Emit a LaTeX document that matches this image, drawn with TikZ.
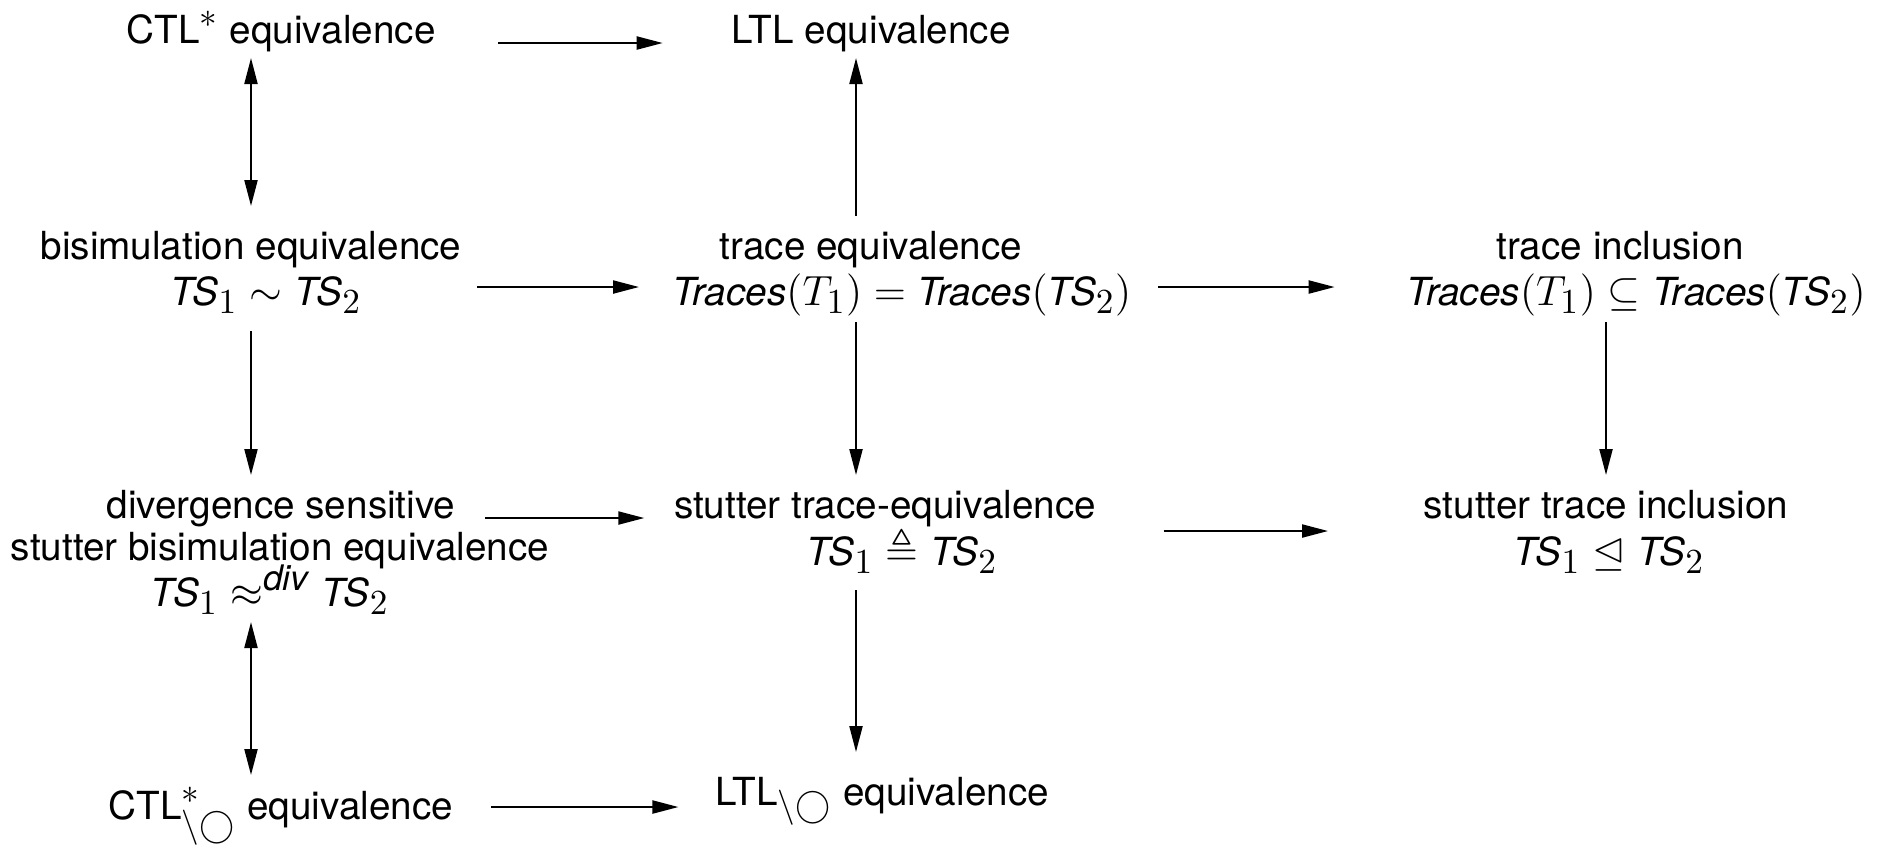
\documentclass[tikz,border=0pt]{standalone}
\usepackage{amsmath,amssymb}
\usepackage[no-math]{fontspec}
\setmainfont{TeX Gyre Heros}
\usetikzlibrary{arrows.meta,calc}
\DeclareMathSizes{11}{12}{10}{7}

\newcommand{\TS}{\mbox{\textit{TS}}}
\newcommand{\Tr}{\mbox{\textit{Traces}}}
\newcommand{\nonext}{_{\setminus\bigcirc}}

\tikzset{
  lbl/.style={anchor=base, inner sep=0pt, font=\fontsize{11}{13}\selectfont},
  arr/.style={line width=0.6pt, -{Triangle[length=0.26cm,width=0.13cm]}},
  darr/.style={line width=0.6pt, {Triangle[length=0.26cm,width=0.13cm]}-{Triangle[length=0.26cm,width=0.13cm]}}
}

\begin{document}
\begin{tikzpicture}[x=0.01cm,y=-0.01cm]
    \useasboundingbox (0,0) rectangle (1885,847);
    % top row
    \node[lbl] (ctl) at (281,43) {CTL$^*$ equivalence};
    \node[lbl] (ltl) at (871,43) {LTL equivalence};
    % second row
    \node[lbl] (bisim) at (251,259) {bisimulation equivalence};
    \node[lbl] (bisimRel) at (266,305) {$\TS_1 \sim \TS_2$};
    \node[lbl] (trace) at (871,259) {trace equivalence};
    \node[lbl] (traceRel) at (902,305) {$\Tr(T_1) = \Tr(\TS_2)$};
    \node[lbl] (incl) at (1620,259) {trace inclusion};
    \node[lbl] (inclRel) at (1636,305) {$\Tr(T_1) \subseteq \Tr(\TS_2)$};
    % third row
    \node[lbl] (div) at (281,518) {divergence sensitive};
    \node[lbl] (divB) at (280,560) {stutter bisimulation equivalence};
    \node[lbl] (divRel) at (270,606) {$\TS_1 \approx^{\textit{div}} \TS_2$};
    \node[lbl] (sttr) at (885,518) {stutter trace-equivalence};
    \node[lbl] (sttrRel) at (902,565) {$\TS_1 \triangleq \TS_2$};
    \node[lbl] (stin) at (1606,518) {stutter trace inclusion};
    \node[lbl] (stinRel) at (1609,565) {$\TS_1 \trianglelefteq \TS_2$};
    % bottom row
    \node[lbl] (ctlNext) at (281,819) {CTL$^*\nonext$ equivalence};
    \node[lbl] (ltlNext) at (882,805) {LTL$\nonext$ equivalence};

    % horizontal arrows
    \draw[arr] ($(ctl.base east)+(62,0)$) -- ($(ltl.base west)+(-68,0)$);
    \draw[arr] ($(bisimRel.base east)+(115,-18)$) -- ($(traceRel.base west)+(-33,-18)$);
    \draw[arr] ($(traceRel.base east)+(26,-18)$) -- ($(inclRel.base west)+(-71,-18)$);
    \draw[arr] ($(div.base east)+(29,0)$) -- ($(sttr.base west)+(-29,0)$);
    \draw[arr] ($(sttr.base east)+(67,13)$) -- ($(stin.base west)+(-95,13)$);
    \draw[arr] ($(ctlNext.base east)+(37,-12)$) -- ($(ltlNext.base west)+(-36,2)$);
    % vertical arrows
    \draw[darr] ($(ctl.base)+(-30,15)$) -- ($(bisim.base)+(0,-53)$);
    \draw[arr] ($(trace.base)+(-15,-43)$) -- ($(ltl.base)+(-15,15)$);
    \draw[arr] ($(inclRel.base)+(-30,17)$) -- ($(stin.base)+(0,-43)$);
    \draw[arr] ($(bisimRel.base)+(-15,26)$) -- ($(div.base)+(-30,-43)$);
    \draw[arr] ($(traceRel.base)+(-46,17)$) -- ($(sttr.base)+(-29,-43)$);
    \draw[darr] ($(divRel.base)+(-19,16)$) -- ($(ctlNext.base)+(-30,-44)$);
    \draw[arr] ($(sttrRel.base)+(-46,25)$) -- ($(ltlNext.base)+(-26,-53)$);
\end{tikzpicture}
\end{document}
